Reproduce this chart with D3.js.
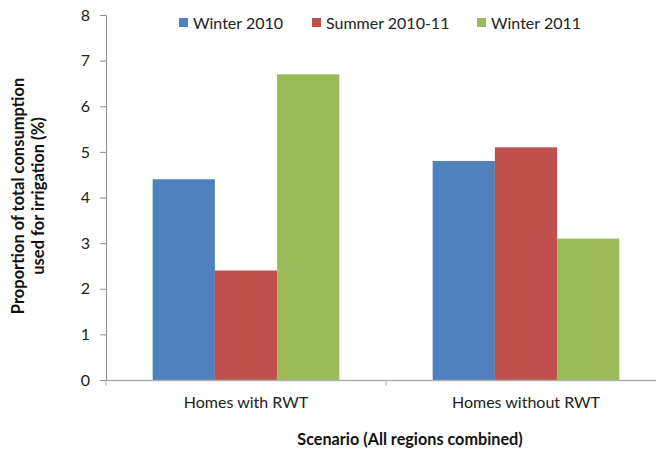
<!DOCTYPE html>
<html>
<head>
<meta charset="utf-8">
<script src="https://cdn.jsdelivr.net/npm/d3@7"></script>
<style>
  html, body { margin: 0; padding: 0; background: #fff; }
  svg { display: block; font-family: Lato, "Open Sans", sans-serif; }
</style>
</head>
<body>
<svg id="chart" width="656" height="450"></svg>
<script>
const categories = ["Homes with RWT", "Homes without RWT"];
const seriesNames = ["Winter 2010", "Summer 2010-11", "Winter 2011"];
const winter2010 = [4.4, 4.8];
const summer2010_11 = [2.4, 5.1];
const winter2011 = [6.7, 3.1];
const yTicks = [0, 1, 2, 3, 4, 5, 6, 7, 8];
const colors = ["#4F81BD", "#C0504D", "#9BBB59"];
const seriesValues = [winter2010, summer2010_11, winter2011];

(function () {
const svg = d3.select("#chart");
const mLeft = 106, mRight = 666, mTop = 15, mBottom = 380;

const x0 = d3.scaleBand().domain(categories).range([mLeft, mRight]).padding(0);
const x1 = d3.scaleBand().domain(seriesNames).range([0, x0.bandwidth()])
  .paddingInner(0).paddingOuter(0.75);
const y = d3.scaleLinear().domain([0, 8]).range([mBottom, mTop]);

// bars
const rows = categories.map((c, i) => ({cat: c, vals: seriesNames.map((s, j) => ({s, v: seriesValues[j][i], j}))}));
const g = svg.append("g");
g.selectAll("g.cat").data(rows).join("g")
  .attr("transform", d => `translate(${x0(d.cat)},0)`)
  .selectAll("rect").data(d => d.vals).join("rect")
  .attr("x", d => x1(d.s))
  .attr("width", x1.bandwidth())
  .attr("y", d => y(d.v))
  .attr("height", d => y(0) - y(d.v))
  .attr("fill", d => colors[d.j]);

// y axis
const yAxis = d3.axisLeft(y).tickValues(yTicks).tickSize(6).tickPadding(10).tickFormat(d3.format("d"));
const ya = svg.append("g").attr("transform", `translate(${mLeft},0)`).call(yAxis);
ya.select(".domain").attr("stroke", "#8c8c8c").attr("stroke-width", 1);
ya.selectAll(".tick line").attr("stroke", "#8c8c8c");
ya.selectAll(".tick text").attr("font-size", 16).attr("fill", "#222").attr("font-family", "Lato");

// x axis
const xAxis = d3.axisBottom(x0).tickSize(0).tickPadding(17);
const xa = svg.append("g").attr("transform", `translate(0,${mBottom})`).call(xAxis);
xa.select(".domain").attr("stroke", "#b0b0b0").attr("stroke-width", 1.5);
xa.selectAll(".tick text").attr("font-size", 16).attr("fill", "#222").attr("font-family", "Lato");
const bounds = [x0.range()[0], x0(categories[1]), x0.range()[1]];
xa.selectAll("line.bnd").data(bounds).join("line").attr("class", "bnd")
  .attr("x1", d => d).attr("x2", d => d).attr("y1", 0).attr("y2", 6)
  .attr("stroke", "#b0b0b0");

// axis titles
svg.append("text").attr("x", 410).attr("y", 445).attr("text-anchor", "middle")
  .attr("font-weight", "bold").attr("font-size", 16.2).attr("fill", "#111")
  .text("Scenario (All regions combined)");
const yt = svg.append("text").attr("transform", "translate(0,196) rotate(-90)")
  .attr("text-anchor", "middle").attr("font-weight", "bold").attr("font-size", 16.5).attr("fill", "#111");
yt.append("tspan").attr("x", 0).attr("y", 24).text("Proportion of total consumption");
yt.append("tspan").attr("x", 0).attr("y", 44).text("used for irrigation (%)");

// legend
const legendX = [179, 312, 477];
const lg = svg.append("g").selectAll("g").data(seriesNames).join("g")
  .attr("transform", (d, i) => `translate(${legendX[i]},0)`);
lg.append("rect").attr("x", 0).attr("y", 18).attr("width", 9).attr("height", 9)
  .attr("fill", (d, i) => colors[i]);
lg.append("text").attr("x", 14).attr("y", 29).attr("font-size", 16).attr("fill", "#222")
  .text(d => d);
})();
</script>
</body>
</html>
